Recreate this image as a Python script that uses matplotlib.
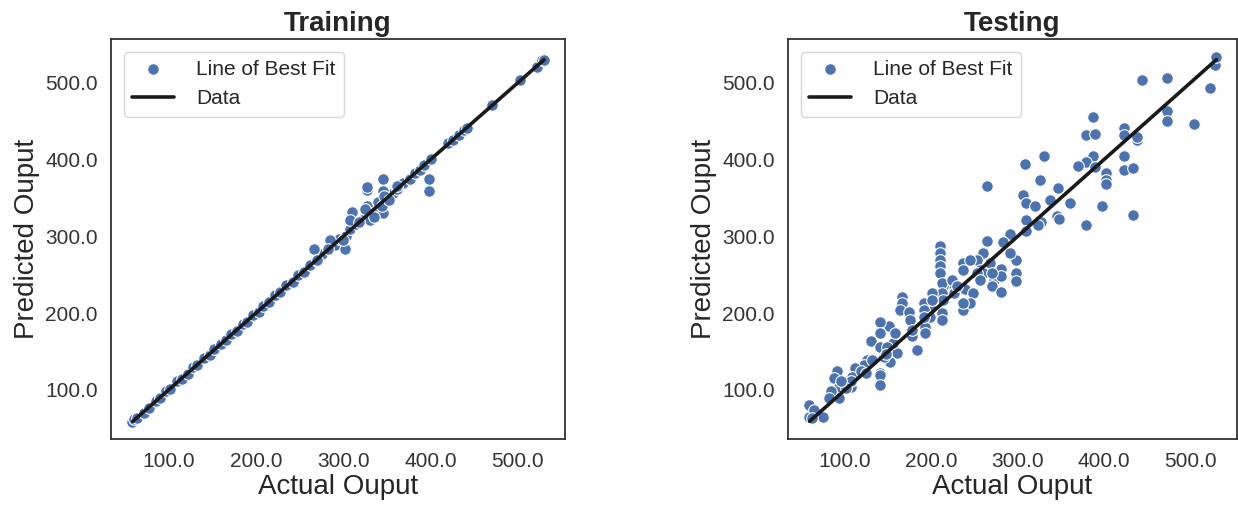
import numpy as np
import matplotlib
matplotlib.use('Agg')
import matplotlib.pyplot as plt
import seaborn as sns
from matplotlib.ticker import FormatStrFormatter

# training set: actual vs predicted
train_actual = [58, 60, 64, 72, 78, 85, 90, 97, 102, 110, 115, 122, 128, 133, 140, 147, 152,
                160, 166, 172, 178, 185, 190, 197, 203, 208, 215, 222, 228, 235, 242, 248, 255,
                262, 270, 276, 283, 290, 295, 303, 308, 315, 322, 333, 343, 350, 357, 362, 368,
                376, 382, 388, 392, 400, 420, 426, 433, 438, 442, 470, 502, 522, 528, 530,
                346, 327, 327, 346, 398, 398, 310, 266, 302, 285, 327, 331, 338, 346, 331, 308,
                362, 300, 270, 282, 340, 344, 335, 325, 347, 318, 352]
train_pred = [58, 62, 63, 70, 77, 86, 89, 98, 101, 112, 114, 121, 130, 132, 141, 146, 153,
              160, 165, 173, 177, 186, 189, 198, 202, 209, 214, 223, 227, 236, 241, 249, 254,
              263, 268, 277, 285, 289, 296, 301, 309, 316, 321, 334, 344, 351, 357, 361, 369,
              375, 383, 387, 393, 401, 421, 425, 432, 439, 441, 471, 503, 521, 529, 530,
              374, 360, 364, 359, 374, 359, 332, 284, 284, 295, 339, 330, 328, 330, 321, 321,
              365, 295, 269, 284, 345, 340, 325, 335, 352, 318, 347]

# testing set: actual vs predicted
test_actual = [530, 529, 523, 444, 473, 473, 473, 504, 387, 379, 389, 423, 423, 438, 423, 423,
               433, 387, 379, 370, 389, 402, 402, 402, 398, 433, 379, 309, 330, 326, 347, 361,
               265, 306, 310, 320, 337, 345, 348, 327, 310, 310, 324, 291, 283, 264, 260, 253,
               256, 260, 268, 272, 270, 281, 281, 281, 298, 298, 298, 291, 237, 237, 239, 248,
               239, 237, 245, 222, 214, 226, 210, 210, 210, 210, 210, 212, 212, 214, 212, 212,
               201, 199, 191, 191, 193, 193, 166, 166, 164, 174, 175, 183, 178, 178, 160, 156,
               152, 151, 140, 140, 130, 140, 145, 141, 141, 141, 126, 122, 112, 108, 107, 91,
               91, 87, 93, 93, 84, 82, 58, 58, 64, 74, 62, 158, 199, 191, 245, 253, 270, 256,
               237, 224, 230, 201, 149, 147, 131, 118, 107, 124, 101, 95, 438, 530]
test_pred = [532, 523, 493, 504, 506, 463, 450, 446, 456, 432, 433, 441, 432, 425, 405, 386,
             389, 405, 397, 392, 390, 382, 373, 368, 339, 328, 315, 394, 404, 373, 363, 344,
             365, 354, 343, 340, 347, 326, 322, 319, 321, 307, 315, 303, 293, 294, 278, 269,
             256, 252, 265, 243, 235, 258, 248, 227, 269, 252, 242, 278, 265, 256, 232, 226,
             208, 204, 213, 239, 235, 226, 287, 278, 269, 261, 252, 239, 226, 217, 200, 191,
             226, 208, 213, 204, 182, 174, 221, 213, 204, 202, 191, 152, 170, 178, 148, 161,
             136, 183, 188, 174, 164, 156, 143, 122, 120, 106, 139, 133, 128, 117, 104, 122,
             124, 115, 104, 89, 98, 89, 80, 65, 74, 65, 63, 174, 195, 195, 269, 252, 252, 243,
             213, 243, 235, 217, 156, 147, 139, 124, 111, 122, 102, 111, 430, 534]

# black reference line
line_x = [59, 530]
line_y = [59, 530]

sns.set_theme(style='white')
plt.rcParams['font.family'] = ['Liberation Sans', 'DejaVu Sans']

fig = plt.figure(figsize=(12.38, 5.05), dpi=100)
W, H = 1238, 505
ax1 = fig.add_axes([111 / W, (H - 439) / H, 454 / W, 400 / H])
ax2 = fig.add_axes([788 / W, (H - 439) / H, 449 / W, 400 / H])

blue = '#4C72B0'
panels = [(ax1, train_actual, train_pred, 'Training'),
          (ax2, test_actual, test_pred, 'Testing')]
for ax, xs, ys, title in panels:
    ax.scatter(xs, ys, s=70, color=blue, edgecolor='white', linewidth=0.8,
               label='Line of Best Fit', zorder=2)
    ax.plot(line_x, line_y, color='#1a1a1a', lw=2.6, label='Data', zorder=3)
    ax.set_title(title, fontsize=20, fontweight='bold', pad=6)
    ax.set_xlabel('Actual Ouput', fontsize=20, labelpad=2)
    ax.set_ylabel('Predicted Ouput', fontsize=20)
    ax.set_xticks([100, 200, 300, 400, 500])
    ax.set_yticks([100, 200, 300, 400, 500])
    ax.xaxis.set_major_formatter(FormatStrFormatter('%.1f'))
    ax.yaxis.set_major_formatter(FormatStrFormatter('%.1f'))
    ax.tick_params(labelsize=15, labelcolor='#333333')
    ax.set_xlim(34, 554)
    ax.set_ylim(36, 557)
    for sp in ax.spines.values():
        sp.set_color('#333333')
        sp.set_linewidth(1.3)
    ax.legend(loc='upper left', fontsize=15, borderaxespad=0.6, handletextpad=1.1)

fig.savefig('out.png', dpi=100)
